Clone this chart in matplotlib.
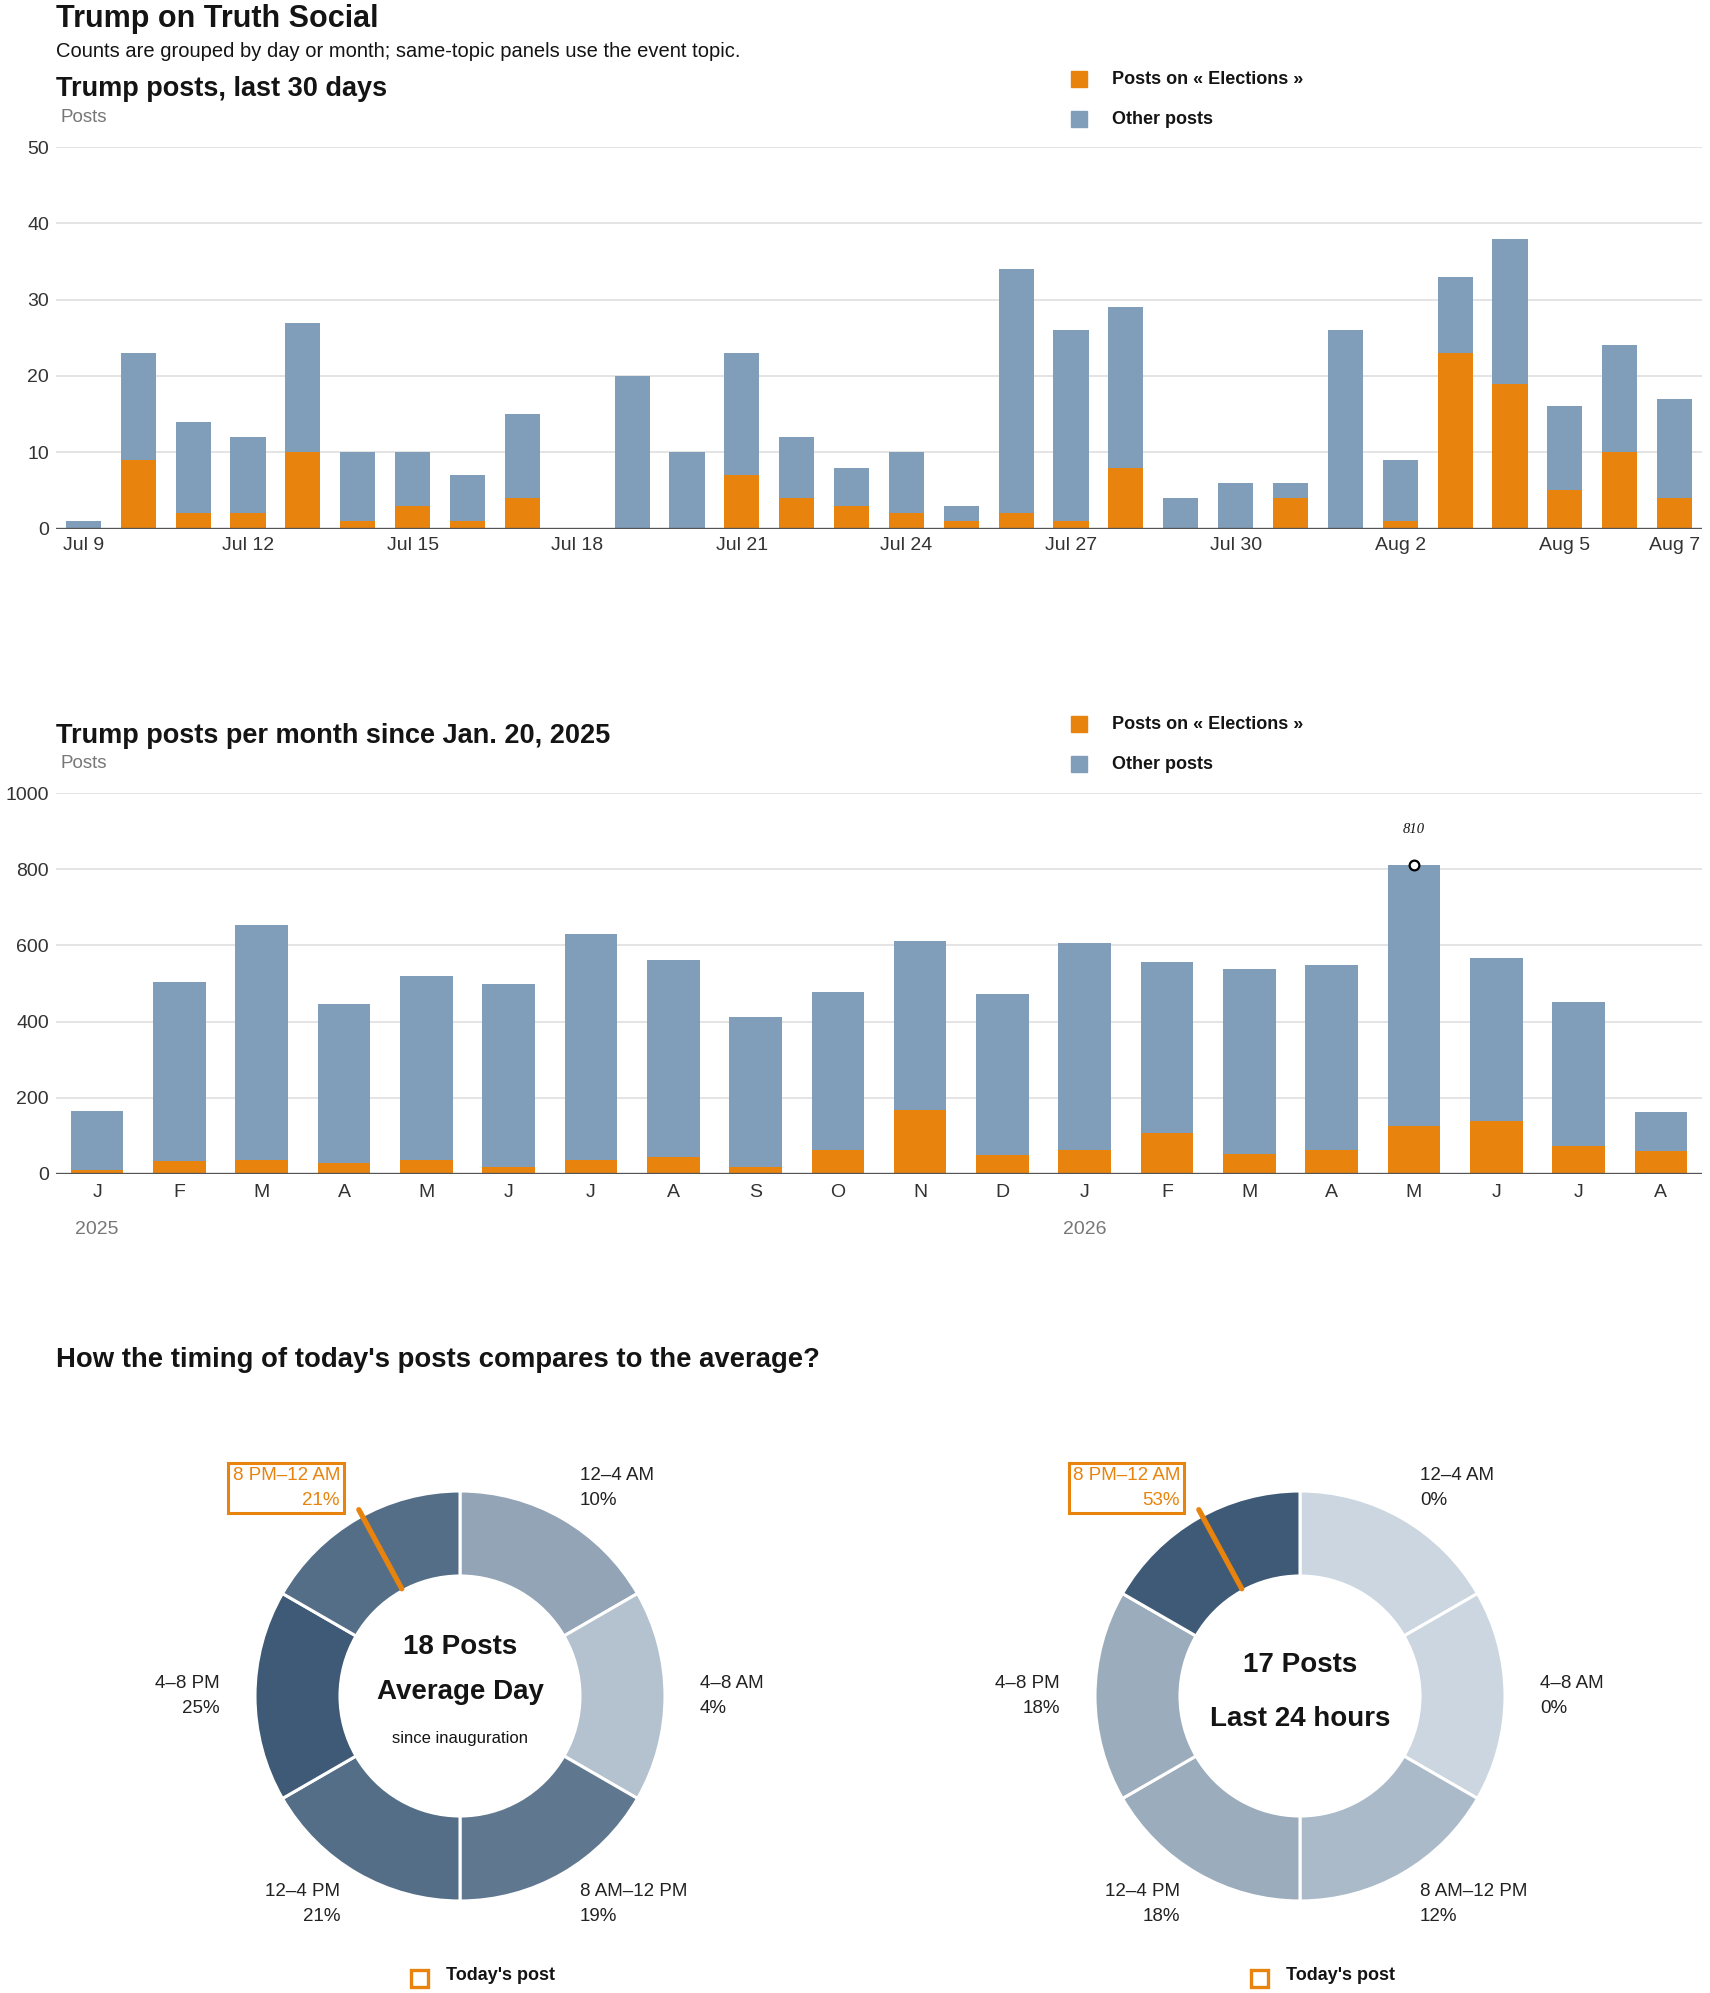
import numpy as np
import pandas as pd
import matplotlib
matplotlib.use('Agg')
import matplotlib.pyplot as plt
from matplotlib.patches import Rectangle
from matplotlib.colors import to_rgb

W, H = 1710, 1993
plt.rcParams['font.family'] = ['Liberation Sans', 'DejaVu Sans']
HEAVY = dict(fontweight='bold')

ORANGE = '#e8830d'
BLUE = '#809eb9'
GRID = '#dcdcdc'
BASE = '#555555'
INK = '#141414'
GRAY = '#777777'

# --- last 30 days -------------------------------------------------------
days = pd.date_range('2026-07-09', '2026-08-07', freq='D')
day_total = [1, 23, 14, 12, 27, 10, 10, 7, 15, 0,
             20, 10, 23, 12, 8, 10, 3, 34, 26, 29,
             4, 6, 6, 26, 9, 33, 38, 16, 24, 17]
day_elections = [0, 9, 2, 2, 10, 1, 3, 1, 4, 0,
                 0, 0, 7, 4, 3, 2, 1, 2, 1, 8,
                 0, 0, 4, 0, 1, 23, 19, 5, 10, 4]

# --- per month since inauguration ----------------------------------------
month_labels = ['J', 'F', 'M', 'A', 'M', 'J', 'J', 'A', 'S', 'O', 'N', 'D',
                'J', 'F', 'M', 'A', 'M', 'J', 'J', 'A']
month_years = ['2025'] + [''] * 11 + ['2026'] + [''] * 7
month_total = [165, 504, 654, 447, 520, 499, 630, 562, 413, 478, 611, 473,
               607, 556, 538, 549, 810, 568, 452, 162]
month_elections = [10, 33, 37, 29, 37, 18, 37, 44, 18, 63, 169, 50,
                   64, 108, 53, 64, 126, 139, 73, 60]

# --- timing donuts ------------------------------------------------------
slots = ['12–4 AM', '4–8 AM', '8 AM–12 PM', '12–4 PM', '4–8 PM', '8 PM–12 AM']
avg_share = [10, 4, 19, 21, 25, 21]
today_share = [0, 0, 12, 18, 18, 53]
avg_posts = 18
today_posts = 17
today_post_hour = 22.1


def fx(x):
    return x / W


def fy(y):
    return 1 - y / H


def axes_px(left, top, right, bottom):
    return fig.add_axes([fx(left), fy(bottom), fx(right - left), (bottom - top) / H])


def style_bar_axes(ax):
    for s in ax.spines.values():
        s.set_visible(False)
    ax.grid(axis='y', color=GRID, linewidth=1.1)
    ax.set_axisbelow(True)
    ax.tick_params(length=0, labelsize=14, colors='#333333')
    ax.tick_params(axis='y', pad=5)
    ax.axhline(0, color=BASE, linewidth=2.4, zorder=5)


def legend_px(top):
    for i, (lab, col) in enumerate([('Posts on « Elections »', ORANGE), ('Other posts', BLUE)]):
        y = top + i * 40
        fig.add_artist(Rectangle((fx(1071), fy(y + 16)), 16 / W, 16 / H,
                                 transform=fig.transFigure, color=col))
        fig.text(fx(1112), fy(y + 13), lab, fontsize=13, color=INK, va='baseline', **HEAVY)


fig = plt.figure(figsize=(W / 100, H / 100), dpi=100)

fig.text(fx(56), fy(27), 'Trump on Truth Social', fontsize=22, color=INK,
         va='baseline', **HEAVY)
fig.text(fx(56), fy(57), 'Counts are grouped by day or month; same-topic panels use the event topic.',
         fontsize=14.5, color=INK, va='baseline')

# chart 1
fig.text(fx(56), fy(96), 'Trump posts, last 30 days', fontsize=19.5, color=INK,
         va='baseline', **HEAVY)
fig.text(fx(60), fy(122), 'Posts', fontsize=13.5, color=GRAY, va='baseline')
legend_px(71)

ax1 = axes_px(56, 147, 1702, 528.6)
x1 = np.arange(len(days))
d_tot = np.array(day_total)
d_el = np.array(day_elections)
ax1.bar(x1, d_el, width=0.64, color=ORANGE, zorder=3)
ax1.bar(x1, d_tot - d_el, bottom=d_el, width=0.64, color=BLUE, zorder=3)
ax1.set_xlim(-0.5, len(days) - 0.5)
ax1.set_ylim(0, 50)
ax1.set_yticks([0, 10, 20, 30, 40, 50])
tick_idx = list(range(0, len(days) - 1, 3)) + [len(days) - 1]
ax1.set_xticks(tick_idx)
ax1.set_xticklabels([f'{days[i]:%b} {days[i].day}' for i in tick_idx])
style_bar_axes(ax1)
ax1.tick_params(axis='x', pad=6)

# chart 2
fig.text(fx(56), fy(743), 'Trump posts per month since Jan. 20, 2025', fontsize=19.5,
         color=INK, va='baseline', **HEAVY)
fig.text(fx(60), fy(768), 'Posts', fontsize=13.5, color=GRAY, va='baseline')
legend_px(716)

ax2 = axes_px(56, 793, 1702, 1174)
x2 = np.arange(len(month_labels))
m_tot = np.array(month_total)
m_el = np.array(month_elections)
ax2.bar(x2, m_el, width=0.64, color=ORANGE, zorder=3)
ax2.bar(x2, m_tot - m_el, bottom=m_el, width=0.64, color=BLUE, zorder=3)
ax2.set_xlim(-0.5, len(month_labels) - 0.5)
ax2.set_ylim(0, 1000)
ax2.set_yticks([0, 200, 400, 600, 800, 1000])
ax2.set_xticks(x2)
ax2.set_xticklabels(month_labels)
style_bar_axes(ax2)
ax2.tick_params(axis='x', pad=7)
for i, yr in enumerate(month_years):
    if yr:
        ax2.annotate(yr, (i, 0), xytext=(0, -60), textcoords='offset pixels',
                     ha='center', va='baseline', fontsize=14, color=GRAY)
peak = int(np.argmax(m_tot))
ax2.plot(peak, m_tot[peak], 'o', ms=7, mfc='white', mec='black', mew=1.6, zorder=6)
ax2.annotate(str(m_tot[peak]), (peak, m_tot[peak]), xytext=(0, 32), textcoords='offset pixels',
             ha='center', va='baseline', fontsize=10.5, style='italic',
             family=['Liberation Serif', 'DejaVu Serif'], color=INK)

# donuts
fig.text(fx(56), fy(1367), "How the timing of today's posts compares to the average?",
         fontsize=19.8, color=INK, va='baseline', **HEAVY)

ax3 = axes_px(0, 1390, W, H)
Y0 = H - 1390  # data y = H - pixel y


def shade(v, vmax):
    light = np.array(to_rgb('#cbd6e0'))
    dark = np.array(to_rgb('#3e5a76'))
    t = v / vmax
    return tuple(light + (dark - light) * t)


def donut(cx, share, posts, caption, sub):
    cy = H - 1696
    R, r = 205, 120
    cols = [shade(v, max(share)) for v in share]
    ax3.pie([4] * len(slots), radius=R, center=(cx, cy), startangle=90, counterclock=False,
            colors=cols, wedgeprops=dict(width=R - r, edgecolor='white', linewidth=2.2))
    hit = int(today_post_hour // 4)
    for k, (lab, v) in enumerate(zip(slots, share)):
        a = np.deg2rad(30 + 60 * k)
        lx = cx + 240 * np.sin(a)
        ly = cy + 240 * np.cos(a)
        ha = 'left' if np.sin(a) > 0 else 'right'
        kw = dict(ha=ha, va='center', fontsize=13.5, linespacing=1.6, color='#222222')
        if k == hit:
            kw['color'] = ORANGE
            kw['bbox'] = dict(boxstyle='square,pad=0.22', fc='white', ec=ORANGE, lw=2.2)
        ax3.text(lx, ly, f'{lab}\n{v}%', **kw)
    # today's post marker line
    th = np.deg2rad(90 - today_post_hour / 24 * 360)
    rr = np.array([122, 212])
    ax3.plot(cx + rr * np.cos(th), cy + rr * np.sin(th), color=ORANGE, lw=3.8,
             solid_capstyle='round', zorder=6)
    if sub:
        ax3.text(cx, cy + 49, f'{posts} Posts', ha='center', va='center', fontsize=20,
                 color=INK, **HEAVY)
        ax3.text(cx, cy + 4, caption, ha='center', va='center', fontsize=20,
                 color=INK, **HEAVY)
        ax3.text(cx, cy - 43, sub, ha='center', va='center', fontsize=12, color=INK)
    else:
        ax3.text(cx, cy + 31, f'{posts} Posts', ha='center', va='center', fontsize=20,
                 color=INK, **HEAVY)
        ax3.text(cx, cy - 23, caption, ha='center', va='center', fontsize=20,
                 color=INK, **HEAVY)
    ax3.add_patch(Rectangle((cx - 49, H - 1987), 17, 17, fill=False, ec=ORANGE, lw=2.4))
    ax3.text(cx - 14, H - 1976, "Today's post", ha='left', va='center', fontsize=13,
             color=INK, **HEAVY)


donut(460, avg_share, avg_posts, 'Average Day', 'since inauguration')
donut(1300, today_share, today_posts, 'Last 24 hours', '')
ax3.set_xlim(0, W)
ax3.set_ylim(0, Y0)
ax3.set_aspect('auto')
ax3.axis('off')

fig.savefig('out.png', dpi=100, facecolor='white')
